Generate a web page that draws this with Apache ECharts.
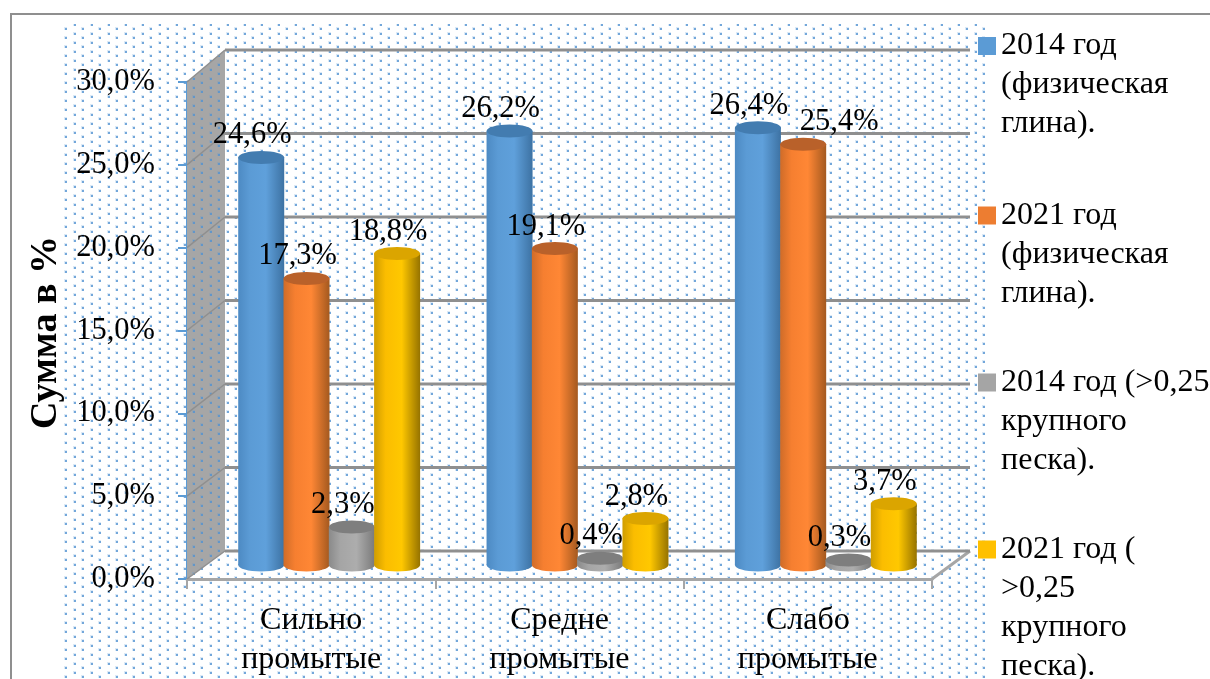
<!DOCTYPE html>
<html lang="ru">
<head>
<meta charset="utf-8">
<title>Сумма в %</title>
<style>html,body{margin:0;padding:0;background:#fff}#chart{width:1210px;height:679px}</style>
<script src="https://cdn.jsdelivr.net/npm/echarts@6/dist/echarts.min.js"></script>
</head>
<body>
<div id="chart"></div>
<script>
// Chart data
const categories = ['Сильно\nпромытые', 'Средне\nпромытые', 'Слабо\nпромытые'];
const clay2014 = [24.6, 26.2, 26.4];
const clay2021 = [17.3, 19.1, 25.4];
const sand2014 = [2.3, 0.4, 0.3];
const sand2021 = [18.8, 2.8, 3.7];
const seriesNames = [
  '2014 год\n(физическая\nглина).',
  '2021 год\n(физическая\nглина).',
  '2014 год (>0,25\nкрупного\nпеска).',
  '2021 год (\n>0,25\nкрупного\nпеска).'
];
const yTicks = [0, 5, 10, 15, 20, 25, 30];

const FONT = '"Liberation Serif", "Times New Roman", serif';
const DEPTH = { x: 38, y: -28 };        // offset of the back wall from the front plane
const BACK_SCALE = 502 / 498;           // the back wall reads slightly taller than the front plane
const MID = { x: 19, y: -14 };          // plane the cylinders stand on
const SLOT = 45.3;                      // horizontal step between cylinders in a group
const RX = 23, RY = 6.5;

const palette = [
  { flat: '#5b9bd5', top: '#437cb0', stops: ['#4d8ac3', '#5b9bd5', '#5fa0db', '#3d72a3'] },
  { flat: '#ed7d31', top: '#b9612a', stops: ['#cf6c29', '#f67f30', '#ff8735', '#a4591f'] },
  { flat: '#a5a5a5', top: '#7e7e7e', stops: ['#8a8a8a', '#a5a5a5', '#adadad', '#7a7a7a'] },
  { flat: '#ffc000', top: '#dba500', stops: ['#cf9d00', '#fbbd00', '#ffc800', '#967300'] }
];

// Dotted fill used behind the plot and over the side wall
function dotTile() {
  const c = document.createElement('canvas');
  c.width = 17; c.height = 9;
  const g = c.getContext('2d');
  [[6, 6], [14, 1]].forEach(([x, y]) => {
    g.fillStyle = 'rgba(91,155,213,0.22)';
    g.fillRect(x - 1, y - 1, 3, 3);
    g.fillStyle = 'rgba(80,145,210,0.75)';
    g.fillRect(x, y, 2, 2);
  });
  return c;
}
const dots = { image: dotTile(), repeat: 'repeat' };

// Back wall, side wall, floor and gridlines
function renderFrame(params, api) {
  const v = api.value(1);
  const cs = params.coordSys;
  const floorY = api.coord([0, 0])[1];
  const y = api.coord([0, v])[1];
  const yBack = floorY + DEPTH.y + (y - floorY) * BACK_SCALE;
  const xL = cs.x, xR = cs.x + cs.width;
  const children = [];
  if (v === 0) {
    const top = api.coord([0, 30])[1];
    const topBack = floorY + DEPTH.y + (top - floorY) * BACK_SCALE;
    const wall = [[xL, y], [xL + DEPTH.x, y + DEPTH.y], [xL + DEPTH.x, topBack], [xL, top]];
    children.push({ type: 'polygon', shape: { points: wall }, style: { fill: '#a6a6a6' } });
    children.push({ type: 'polygon', shape: { points: wall }, style: { fill: dots } });
    children.push({
      type: 'line',
      shape: { x1: xR, y1: y, x2: xR + DEPTH.x, y2: y + DEPTH.y },
      style: { stroke: '#a6a6a6', lineWidth: 3 }
    });
  }
  children.push({
    type: 'line',
    shape: { x1: xL + DEPTH.x, y1: yBack, x2: xR + DEPTH.x, y2: yBack },
    style: { stroke: '#8f8f8f', lineWidth: 3 }
  });
  children.push({
    type: 'line',
    shape: { x1: xL, y1: y, x2: xL + DEPTH.x, y2: yBack },
    style: { stroke: '#8f8f8f', lineWidth: 1.5 }
  });
  return { type: 'group', children };
}

// One gradient-shaded cylinder with its value label
function renderCylinder(params, api) {
  const i = params.seriesIndex - 1;
  const cat = api.value(0);
  const val = api.value(1);
  const base = api.coord([cat, 0]);
  const head = api.coord([cat, val]);
  const cx = base[0] + MID.x + (i - 1.5) * SLOT - 1;
  const yB = base[1] + MID.y;
  const yT = head[1] + MID.y;
  const pal = palette[i];
  const body = new echarts.graphic.LinearGradient(0, 0, 1, 0, [
    { offset: 0, color: pal.stops[0] },
    { offset: 0.25, color: pal.stops[1] },
    { offset: 0.6, color: pal.stops[2] },
    { offset: 1, color: pal.stops[3] }
  ]);
  const shift = (i === 1 && cat === 2) ? 45 : 0;
  return {
    type: 'group',
    children: [
      { type: 'ellipse', shape: { cx, cy: yB, rx: RX, ry: RY }, style: { fill: body } },
      { type: 'rect', shape: { x: cx - RX, y: yT, width: RX * 2, height: yB - yT }, style: { fill: body } },
      { type: 'ellipse', shape: { cx, cy: yT, rx: RX, ry: RY }, style: { fill: pal.top } },
      {
        type: 'text', z2: 100,
        x: cx - 9 + shift, y: yT - 22,
        style: {
          text: val.toFixed(1).replace('.', ',') + '%',
          font: '30.5px ' + FONT, fill: '#000', align: 'center', verticalAlign: 'middle'
        }
      }
    ]
  };
}

function cylinderSeries(name, values) {
  return {
    type: 'custom', name, z: 3, clip: false, silent: true,
    renderItem: renderCylinder,
    encode: { x: 0, y: 1 },
    itemStyle: { color: palette[values.idx].flat },
    data: values.data.map((v, k) => [k, v])
  };
}

// Each legend entry is placed on its own so that the rows keep their spacing.
// Blank lines above the text keep the marker beside the first text line.
const legendRows = [46, 215.5, 382.5, 549.5];
const LEGEND_LINE = 39;
const legends = seriesNames.map((name, k) => {
  const extra = name.split('\n').length - 1;
  const h = (2 * extra + 1) * LEGEND_LINE;
  return {
    data: [name],
    orient: 'vertical',
    left: 978,
    top: legendRows[k] - h / 2,
    padding: 0,
    itemWidth: 18,
    itemHeight: 18,
    icon: 'rect',
    selectedMode: false,
    formatter: n => '\n'.repeat(extra) + n,
    textStyle: { fontFamily: FONT, fontSize: 32, color: '#000', lineHeight: LEGEND_LINE }
  };
});

const chart = echarts.init(document.getElementById('chart'), null, { renderer: 'canvas' });
chart.setOption({
  animation: false,
  backgroundColor: '#fff',
  graphic: {
    elements: [
      { type: 'rect', z: -10, silent: true, shape: { x: 64, y: 24, width: 921, height: 655 }, style: { fill: dots } },
      { type: 'polyline', z: -9, silent: true, shape: { points: [[11, 679], [11, 14], [1210, 14]] },
        style: { stroke: '#8f8f8f', lineWidth: 2, fill: null } }
    ]
  },
  legend: legends,
  grid: { left: 187, right: 278, top: 82, bottom: 99, containLabel: false },
  xAxis: {
    type: 'category',
    data: categories,
    axisLine: { lineStyle: { color: '#a6a6a6', width: 3 } },
    axisTick: { show: true, length: 10, lineStyle: { color: '#a6a6a6', width: 2 } },
    axisLabel: { fontFamily: FONT, fontSize: 32, color: '#000', lineHeight: 39, margin: 22, interval: 0 }
  },
  yAxis: {
    type: 'value',
    min: 0, max: 30, interval: 5,
    name: 'Сумма в %',
    nameLocation: 'middle',
    nameGap: 118,
    nameRotate: 90,
    nameTextStyle: { fontFamily: FONT, fontSize: 38, fontWeight: 'bold', color: '#000', padding: [0, 4, 0, 0] },
    axisLine: { show: true, lineStyle: { color: '#5b9bd5', width: 3 } },
    axisTick: { show: true, length: 9, lineStyle: { color: '#5b9bd5', width: 2 } },
    axisLabel: {
      fontFamily: FONT, fontSize: 30.5, color: '#000', margin: 32, padding: [10, 0, 0, 0],
      formatter: v => v.toFixed(1).replace('.', ',') + '%'
    },
    splitLine: { show: false }
  },
  series: [
    {
      type: 'custom', name: 'frame', z: 1, clip: false, silent: true,
      renderItem: renderFrame,
      encode: { x: 0, y: 1 },
      data: yTicks.map(t => [0, t])
    },
    cylinderSeries(seriesNames[0], { idx: 0, data: clay2014 }),
    cylinderSeries(seriesNames[1], { idx: 1, data: clay2021 }),
    cylinderSeries(seriesNames[2], { idx: 2, data: sand2014 }),
    cylinderSeries(seriesNames[3], { idx: 3, data: sand2021 })
  ]
});
</script>
</body>
</html>
